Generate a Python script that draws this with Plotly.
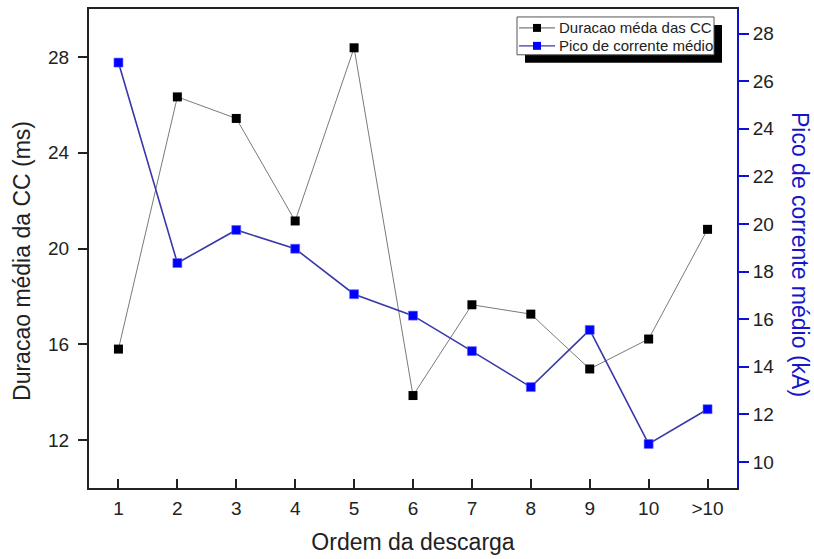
import plotly.graph_objects as go

categories = ["1", "2", "3", "4", "5", "6", "7", "8", "9", "10", ">10"]
duracao = [15.8, 26.33, 25.43, 21.15, 28.38, 13.86, 17.65, 17.26, 14.97, 16.22, 20.8]
pico = [26.78, 18.36, 19.75, 18.96, 17.05, 16.15, 14.66, 13.15, 15.55, 10.76, 12.22]
series_names = ["Duracao méda das CC", "Pico de corrente médio"]

left_ticks = [12, 16, 20, 24, 28]
right_ticks = [10, 12, 14, 16, 18, 20, 22, 24, 26, 28]

FONT = "Liberation Sans, Arial, sans-serif"
BLACK_LINE = "#7a7a7a"
BLUE_LINE = "#3838a8"
BLUE_MARK = "#0000ff"

# plot area in pixels (for the hand-made legend box and titles)
L, R, T, B = 89, 737, 7, 488


def px(x):
    return (x - L) / (R - L)


def py(y):
    return 1 - (y - T) / (B - T)


fig = go.Figure()
fig.add_trace(go.Scatter(
    x=categories, y=duracao, name=series_names[0],
    mode="lines+markers",
    line=dict(color=BLACK_LINE, width=1),
    marker=dict(symbol="square", size=9, color="black", line=dict(width=0)),
))
fig.add_trace(go.Scatter(
    x=categories, y=pico, name=series_names[1],
    mode="lines+markers", yaxis="y2",
    line=dict(color=BLUE_LINE, width=1.6),
    marker=dict(symbol="square", size=9, color=BLUE_MARK, line=dict(width=0.6, color="#6a6aff")),
))

shapes = [
    # legend shadow
    dict(type="rect", xref="paper", yref="paper",
         x0=px(525), x1=px(722), y0=py(61), y1=py(23),
         fillcolor="black", line=dict(width=0), layer="above"),
    # legend box
    dict(type="rect", xref="paper", yref="paper",
         x0=px(517), x1=px(714), y0=py(53), y1=py(15),
         fillcolor="white", line=dict(width=1, color="#555"), layer="above"),
]
annotations = []
legend_rows = [(26, BLACK_LINE, "black"), (44, BLUE_LINE, BLUE_MARK)]
for (yy, lc, mc), name in zip(legend_rows, series_names):
    shapes.append(dict(type="line", xref="paper", yref="paper",
                       x0=px(519), x1=px(555), y0=py(yy), y1=py(yy),
                       line=dict(color=lc, width=1.3), layer="above"))
    shapes.append(dict(type="rect", xref="paper", yref="paper",
                       x0=px(533), x1=px(541), y0=py(yy + 4), y1=py(yy - 4),
                       fillcolor=mc, line=dict(width=0), layer="above"))
    annotations.append(dict(text=name, xref="paper", yref="paper",
                            x=px(557), y=py(yy), xanchor="left", yanchor="middle",
                            showarrow=False, font=dict(size=15, color="#222")))

annotations.append(dict(
    text="Duracao média da CC (ms)", textangle=-90,
    xref="paper", yref="paper", x=px(22), y=py(260),
    showarrow=False, font=dict(size=23, color="#222"),
    xanchor="center", yanchor="middle",
))
annotations.append(dict(
    text="Pico de corrente médio (kA)", textangle=90,
    xref="paper", yref="paper", x=px(800), y=py(253),
    showarrow=False, font=dict(size=23, color="#1515c8"),
    xanchor="center", yanchor="middle",
))

fig.update_layout(
    width=814, height=559,
    margin=dict(l=L, r=814 - R, t=T, b=559 - B),
    paper_bgcolor="white", plot_bgcolor="white",
    font=dict(family=FONT, size=19, color="#222"),
    showlegend=False,
    xaxis=dict(
        type="category", categoryorder="array", categoryarray=categories,
        range=[-0.5, 10.5],
        showline=True, linecolor="#222", linewidth=2, mirror=True,
        ticks="inside", ticklen=9, tickwidth=1.5, tickcolor="#222",
        ticklabelstandoff=2, tickfont=dict(size=19),
        showgrid=False, zeroline=False,
        title=dict(text="Ordem da descarga", font=dict(size=23), standoff=16),
    ),
    yaxis=dict(
        range=[10, 30], tickvals=left_ticks,
        showline=True, linecolor="#222", linewidth=2,
        ticks="outside", ticklen=9, tickwidth=1.5, tickcolor="#222",
        ticklabelstandoff=5, tickfont=dict(size=19),
        showgrid=False, zeroline=False,
    ),
    yaxis2=dict(
        overlaying="y", side="right",
        range=[8.91, 29.03], tickvals=right_ticks,
        showline=True, linecolor="#1010d0", linewidth=2,
        ticks="outside", ticklen=10, tickwidth=1.5, tickcolor="#1010d0",
        tickfont=dict(color="#222", size=19),
        showgrid=False, zeroline=False,
    ),
    shapes=shapes,
    annotations=annotations,
)

fig.write_html("out.html")
